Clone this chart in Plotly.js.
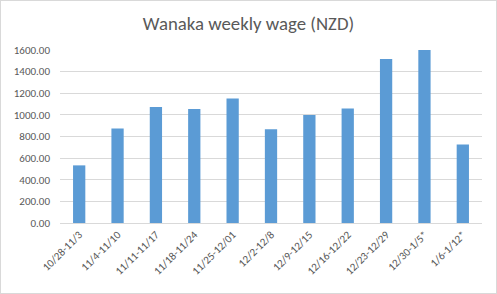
<!DOCTYPE html>
<html>
<head>
<meta charset="utf-8">
<script src="https://cdn.plot.ly/plotly-3.0.1.min.js"></script>
<style>
  html, body { margin: 0; padding: 0; background: #fff; }
  #chart { width: 497px; height: 294px; box-sizing: border-box; border: 1px solid #d9d9d9; }
</style>
</head>
<body>
<div id="chart"></div>
<script>
// Weekly pay periods and the wage earned in each (NZD)
const weeks = ["10/28-11/3", "11/4-11/10", "11/11-11/17", "11/18-11/24", "11/25-12/01",
               "12/2-12/8", "12/9-12/15", "12/16-12/22", "12/23-12/29", "12/30-1/5*", "1/6-1/12*"];
const wages = [533, 875, 1073, 1054, 1151, 866, 1000, 1060, 1517, 1602, 727];
const yTicks = [0, 200, 400, 600, 800, 1000, 1200, 1400, 1600];

const font = "Carlito, 'Liberation Sans Narrow', 'Liberation Sans', sans-serif";

Plotly.newPlot("chart", [{
  type: "bar",
  x: weeks,
  y: wages,
  marker: { color: "#5b9bd5" },
  hoverinfo: "x+y"
}], {
  width: 495,
  height: 292,
  margin: { l: 59, r: 14, t: 49, b: 70 },
  paper_bgcolor: "#ffffff",
  plot_bgcolor: "#ffffff",
  bargap: 0.68,
  showlegend: false,
  title: {
    text: "Wanaka weekly wage (NZD)",
    x: 0.5, xanchor: "center",
    y: 0.922, yanchor: "middle",
    font: { family: font, size: 18.8, color: "#595959" }
  },
  xaxis: {
    type: "category",
    tickangle: -45,
    tickfont: { family: font, size: 11, color: "#595959" },
    showgrid: false,
    showline: true,
    linecolor: "#d9d9d9",
    linewidth: 1,
    ticks: "",
    fixedrange: true
  },
  yaxis: {
    range: [0, 1600],
    tickvals: yTicks,
    tickformat: ".2f",
    tickfont: { family: font, size: 11, color: "#595959" },
    gridcolor: "#d9d9d9",
    gridwidth: 1,
    zeroline: false,
    showline: false,
    ticks: "",
    ticklabelstandoff: 9,
    fixedrange: true
  }
}, { displayModeBar: false, staticPlot: true });
</script>
</body>
</html>
